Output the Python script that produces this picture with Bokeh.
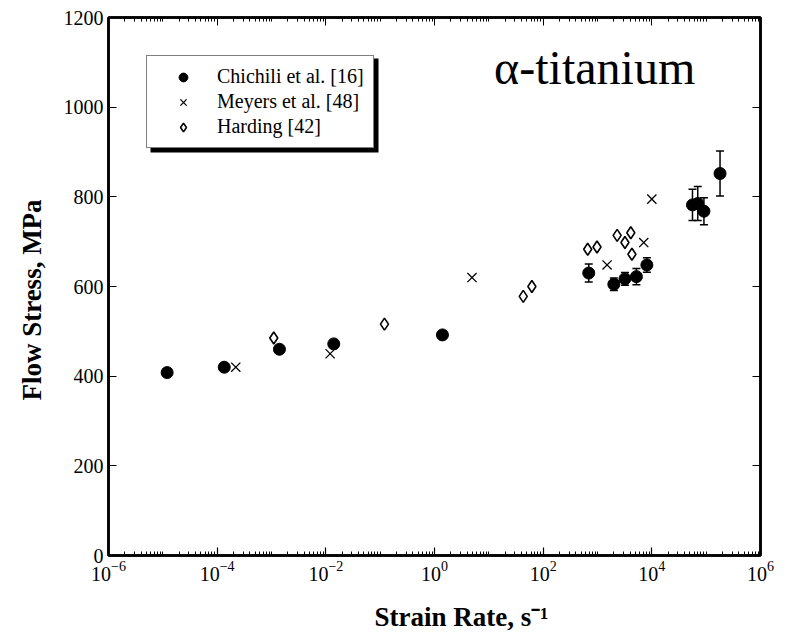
from bokeh.plotting import figure
from bokeh.models import (ColumnDataSource, Whisker, TeeHead, Legend, LegendItem,
                          FixedTicker, LogAxis, LinearAxis, Label, Range1d, BoxAnnotation)
from bokeh.embed import file_html
from bokeh.resources import INLINE

# ---- data ----
chichili_rate = [1.2e-5, 1.35e-4, 1.4e-3, 1.4e-2, 1.4, 690, 2.0e3, 3.2e3, 5.2e3, 8.1e3, 5.6e4, 7.0e4, 9.1e4, 1.8e5]
chichili_stress = [408, 420, 460, 472, 492, 630, 605, 617, 622, 648, 782, 785, 768, 852]
chichili_err = [0, 0, 0, 0, 0, 20, 14, 14, 18, 16, 35, 38, 30, 50]

meyers_rate = [2.2e-4, 1.2e-2, 4.9, 1.5e3, 7.1e3, 1.0e4]
meyers_stress = [420, 450, 620, 648, 698, 795]

harding_rate = [1.1e-3, 0.12, 43, 62, 660, 980, 2.3e3, 4.1e3, 3.2e3, 4.3e3]
harding_stress = [485, 516, 578, 600, 683, 688, 714, 720, 698, 672]

y_ticks = [0, 200, 400, 600, 800, 1000, 1200]
x_major_exps = [-6, -4, -2, 0, 2, 4, 6]

FONT = "Liberation Serif"

p = figure(width=785, height=635, x_axis_type="log",
           x_range=Range1d(1e-6, 1e6), y_range=Range1d(0, 1200),
           output_backend="svg", toolbar_location=None,
           min_border_left=108, min_border_right=25,
           min_border_top=17, min_border_bottom=80)
p.grid.visible = False
p.outline_line_color = "black"
p.outline_line_width = 2.5
p.background_fill_color = "white"
p.border_fill_color = "white"

x_major = [10.0 ** e for e in x_major_exps]
x_minor = [m * 10.0 ** e for e in range(-6, 6) for m in range(1, 10) if not (m == 1 and e % 2 == 0)]
xticker = FixedTicker(ticks=x_major, minor_ticks=x_minor)
yticker = FixedTicker(ticks=y_ticks)

xa = p.xaxis[0]
xa.ticker = xticker
xa.axis_label = "\u2003\u2003Strain Rate, s\u207b\u00b9"
ya = p.yaxis[0]
ya.ticker = yticker
ya.axis_label = "Flow Stress, MPa\u2003"

for ax in (xa, ya):
    ax.axis_line_width = 2.5
    ax.major_tick_in = 8
    ax.major_tick_out = 0
    ax.minor_tick_in = 4
    ax.minor_tick_out = 0
    ax.major_label_text_font = FONT
    ax.major_label_text_font_size = "20px"
    ax.major_label_text_color = "black"
    ax.axis_label_text_font = FONT
    ax.axis_label_text_font_size = "27px"
    ax.axis_label_text_font_style = "bold"
    ax.axis_label_text_color = "black"
    ax.major_tick_line_width = 1.2
    ax.minor_tick_line_width = 1
ya.minor_tick_line_color = None
ya.major_label_standoff = 5
ya.axis_label_standoff = 14
xa.major_label_standoff = 5
xa.axis_label_standoff = 18

top = LogAxis(ticker=xticker, major_label_text_font_size="1px", major_label_text_color=None,
              major_label_standoff=0,
              axis_line_width=2.5, major_tick_in=8, major_tick_out=0,
              minor_tick_in=4, minor_tick_out=0)
right = LinearAxis(ticker=yticker, major_label_text_font_size="1px", major_label_text_color=None,
                   major_label_standoff=0,
                   axis_line_width=2.5, major_tick_in=8, major_tick_out=0,
                   minor_tick_line_color=None)
p.add_layout(top, "above")
p.add_layout(right, "right")

# error bars
eb = [(r, s, e) for r, s, e in zip(chichili_rate, chichili_stress, chichili_err) if e > 0]
err_src = ColumnDataSource(dict(x=[t[0] for t in eb],
                                upper=[t[1] + t[2] for t in eb],
                                lower=[t[1] - t[2] for t in eb]))
w = Whisker(base="x", upper="upper", lower="lower", source=err_src, dimension="height",
            line_color="black", line_width=1.5,
            upper_head=TeeHead(size=8, line_color="black", line_width=1.5),
            lower_head=TeeHead(size=8, line_color="black", line_width=1.5))
p.add_layout(w)

r1 = p.scatter(chichili_rate, chichili_stress, marker="circle", size=12,
               fill_color="black", line_color="black")
r2 = p.scatter(meyers_rate, meyers_stress, marker="x", size=13,
               line_color="black", line_width=1.3)
r3 = p.scatter(harding_rate, harding_stress, marker="diamond", size=12,
               fill_color=None, line_color="black", line_width=1.6)

# legend drop shadow
shadow = BoxAnnotation(left=42, right=270, bottom=403, top=497,
                       left_units="screen", right_units="screen",
                       bottom_units="screen", top_units="screen",
                       fill_color="black", fill_alpha=1.0, line_color=None)
p.add_layout(shadow)

legend = Legend(items=[LegendItem(label="Chichili et al. [16]", renderers=[r1]),
                       LegendItem(label="Meyers et al. [48]", renderers=[r2]),
                       LegendItem(label="Harding [42]", renderers=[r3])],
                location=(38, 407))
legend.label_text_font = FONT
legend.label_text_font_size = "20px"
legend.label_text_color = "black"
legend.border_line_color = "black"
legend.border_line_width = 1.5
legend.background_fill_color = "white"
legend.background_fill_alpha = 1.0
legend.padding = 9
legend.spacing = 2
legend.label_height = 22
legend.glyph_height = 22
legend.glyph_width = 54
legend.label_standoff = 7
legend.margin = 0
p.add_layout(legend, "center")

p.add_layout(Label(x=12.5, y=1088, text="\u03b1-titanium", text_font=FONT,
                   text_font_size="48px", text_color="black", text_baseline="alphabetic"))

open("out.html", "w").write(file_html(p, INLINE))
